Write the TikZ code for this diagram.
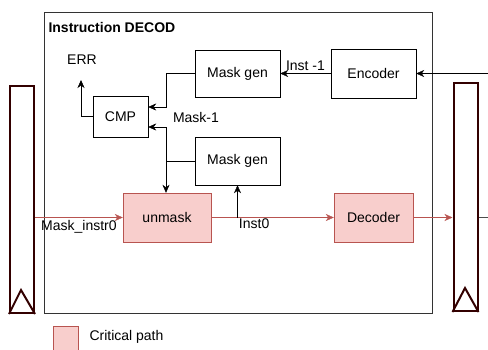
\documentclass[tikz,border=0pt]{standalone}
\usepackage{fontspec}
\setmainfont{Liberation Sans}
\usetikzlibrary{arrows.meta}
\definecolor{critfill}{HTML}{F8CECC}
\definecolor{critline}{HTML}{B85450}
\definecolor{regline}{HTML}{330000}

\begin{document}
\begin{tikzpicture}[x=1pt, y=-1pt, font=\fontsize{14}{16}\selectfont,
        blk/.style={draw=black, fill=white, inner sep=0pt},
        crit/.style={draw=critline, fill=critfill, inner sep=0pt},
        reg/.style={draw=regline, line width=2pt, inner sep=0pt, minimum width=24pt},
        wire/.style={-{Stealth[length=8pt,width=7pt,inset=2.5pt]}},
        critwire/.style={wire, draw=critline, fill=critline}]
        \useasboundingbox (0,0) rectangle (488,349);
        \draw[draw=black!80] (44,12) rectangle (432,313);
        \node[anchor=west, font=\fontsize{14}{16}\selectfont\bfseries] (title) at (45,27) {Instruction DECOD};
        % blocks
        \node[blk, minimum width=85pt, minimum height=47pt] (maskgenA) at (237.5,73.5) {Mask gen};
        \node[blk, minimum width=85pt, minimum height=49pt] (enc) at (373.5,73.5) {Encoder};
        \node[blk, minimum width=55pt, minimum height=41pt] (cmp) at (120.5,116.5) {CMP};
        \node[blk, minimum width=85pt, minimum height=48pt] (maskgenB) at (237.5,161) {Mask gen};
        \node[crit, minimum width=88pt, minimum height=49pt] (unmask) at (167,217.5) {unmask};
        \node[crit, minimum width=79pt, minimum height=49pt] (dec) at (373.5,217.5) {Decoder};
        % registers
        \node[reg, minimum height=227pt] (lreg) at (22,199.5) {};
        \node[reg, minimum height=228pt] (rreg) at (465.5,197) {};
        \draw[regline, line width=2pt] (lreg.south west) -- ([xshift=12pt,yshift=24pt]lreg.south west) -- (lreg.south east);
        \draw[regline, line width=2pt] (rreg.south west) -- ([xshift=12.5pt,yshift=24pt]rreg.south west) -- (rreg.south east);
        % wires
        \node (err) at (82,60) {ERR};
        \coordinate (errtip) at (81,80);
        \coordinate (jA) at (166,107);
        \coordinate (jB) at (166,127);
        \coordinate (inR) at (488,73.5);
        \coordinate (outR) at (488,217.5);
        \draw[wire] (cmp.west) -| (errtip);
        \draw[wire] (maskgenA.west) -| (jA) -- (jA -| cmp.east);
        \draw[wire] (maskgenB.west) -| (jB) -- (jB -| cmp.east);
        \draw[wire] (maskgenB.west -| jB) -- (unmask.north -| jB);
        \node (mask1) at (196,117) {Mask-1};
        \draw[wire] (enc.west) -- node[above, pos=0.5, yshift=-1pt] (inst1) {Inst -1} (maskgenA.east);
        \draw[wire] (inR) -- (enc.east);
        \draw[critwire] (unmask.west -| lreg.east) -- node[below, pos=0.5, yshift=1pt] (minstr) {Mask\_instr0} (unmask.west);
        \draw[critwire] (unmask.east) -- node[below, pos=0.35, yshift=2pt] (inst0) {Inst0} (dec.west);
        \draw[wire] (maskgenB.south |- unmask.east) -- (maskgenB.south);
        \draw[critwire] (dec.east) -- (dec.east -| rreg.west);
        \draw[black!70] (rreg.east |- dec.east) -- (outR);
        % legend
        \node[crit, minimum size=25pt] (legbox) at (65.5,338.5) {};
        \node[anchor=west] (legtext) at (86,337) {Critical path};
\end{tikzpicture}
\end{document}
